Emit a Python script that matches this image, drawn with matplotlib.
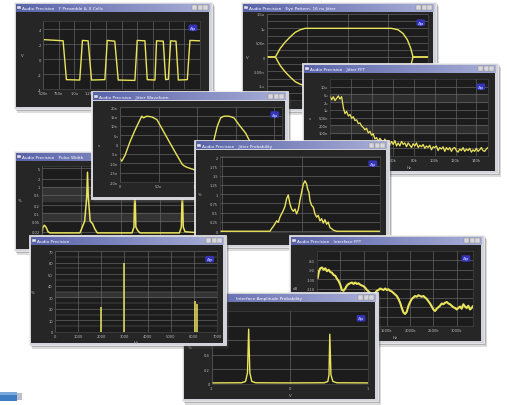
import matplotlib
matplotlib.use("Agg")
import matplotlib.pyplot as plt
from matplotlib.patches import Rectangle
from matplotlib.colors import LinearSegmentedColormap
import numpy as np

# ---------------------------------------------------------------- data
# 1. Y Preamble & X Cells  (time in us, level)
pre_t = [0.525, 0.82, 0.873, 1.085, 1.128, 1.218, 1.273, 1.485, 1.523, 1.643,
         1.698, 1.963, 2.0, 2.123, 2.16, 2.283, 2.308, 2.415, 2.453, 2.495,
         2.533, 2.618, 2.655, 2.798, 2.84, 2.99]
pre_v = [2.6, 2.45, -2.75, -2.8, 2.5, 2.45, -2.8, -2.75, 2.5, 2.4,
         -2.8, -2.85, 2.5, 2.45, -2.75, -2.8, 2.45, 2.4, -2.75, -2.7,
         2.45, 2.4, -2.8, -2.75, 2.5, 2.45]
pre_xt = [0.5, 0.75, 1.0, 1.25, 1.5, 1.75, 2.0, 2.25, 2.5, 2.75, 3.0]
pre_xl = ['500n', '750n', '1.0u', '1.25u', '1.5u', '1.75u', '2.0u', '2.25u', '2.5u', '2.75u', '3.0u']
pre_yt = [-4, -2, 0, 2, 4]
pre_yl = ['-4', '-2', '0', '2', '4']

# 2. Eye pattern (divisions, normalized amplitude)
eye_t = [0, 0.52, 0.82, 1.13, 1.44, 1.75, 2.06, 2.37, 7.73, 8.14, 8.45, 8.72, 8.93, 9.07, 10]
eye_v = [0, 0, 0.30, 0.52, 0.70, 0.86, 0.95, 1.0, 1.0, 0.95, 0.82, 0.6, 0.3, 0, 0]
eye_yt = [-1.5, -1.25, -1.0, -0.75, -0.5, -0.25, 0, 0.25, 0.5, 0.75, 1.0, 1.25, 1.5]
eye_yl = ['-1.5u', '', '-1u', '', '-500n', '', '0', '', '500n', '', '1u', '', '1.5u']

# 3. Jitter FFT (kHz bins 0..151, level)
fft_a = [78, 73, 77, 72, 75, 78, 74, 77, 63, 55, 58, 52, 54, 49, 51, 46, 47, 42, 43, 39,
         37, 34, 36, 30, 32, 27, 29, 22, 24, 19, 23, 20, 17, 22, 16, 20, 14, 19, 15, 20,
         13, 17, 13, 19, 15, 17, 12, 17, 14, 11, 16, 13, 17, 11, 14, 12, 15, 10, 13, 11,
         14, 8, 12, 11, 13, 7, 11, 9, 12, 6, 11, 8, 11, 6, 10, 11, 7, 5, 9, 7,
         11, 6, 9, 7, 10, 5, 8, 6, 10, 6, 8, 11, 7, 6, 9, 11]
fft_xt = [20, 40, 60, 80, 100, 120, 140]
fft_xl = ['20k', '40k', '60k', '80k', '100k', '120k', '140k']
fft_yt = [10, 20, 30, 40, 50, 60, 70, 80, 90]
fft_yl = ['20n', '50n', '100n', '200n', '500n', '1u', '2u', '5u', '10u']

# 4. Jitter Waveform (us, ns)
jw_t = [0, 2.2, 6.5, 13, 19.6, 26, 28.3, 30.4, 34.8, 41.3,
        47.8, 56.5, 65.2, 73.9, 80.4, 82.6, 87, 93.5, 97.8, 105,
        112, 118, 121.7, 126, 130.4, 134.8, 141.3, 147.8, 154.3, 163,
        167.4, 175, 185, 195, 210]
jw_v = [-7.6, -8.9, -5.8, 1.5, 7.8, 13.3, 15.1, 14.2, 15.1, 14.7,
        13.3, 6.9, 0.5, -5.8, -10.4, -11.3, -12.2, -13.1, -13.6, -12,
        -7, -1, 2.2, 9.6, 14.2, 15.1, 15.1, 14.2, 10.5, 6,
        2.4, -3, -10, -13, -13]
jw_xt = [0, 50, 100, 150, 200]
jw_xl = ['0', '50u', '100u', '150u', '200u']
jw_yt = [-20, -15, -10, -5, 0, 5, 10, 15, 20]
jw_yl = ['-20n', '-15n', '-10n', '-5n', '0', '5n', '10n', '15n', '20n']

# 5. Pulse Width
pw_x = [0, 0.6, 1.5, 2.5, 3.8, 5, 24, 25.5, 27, 28.3, 28.8, 29.3, 30.5, 32, 33.5, 35,
        57, 58.2, 58.8, 59.4, 60.6, 62, 87, 88.2, 88.8, 89.4, 90.5, 100]
pw_y = [0.018, 0.03, 0.035, 0.03, 0.02, 0.018, 0.018, 0.03, 0.05, 0.4, 3.5, 0.4, 0.05, 0.04, 0.025, 0.018,
        0.018, 0.03, 1.1, 0.03, 0.022, 0.018, 0.018, 0.03, 0.9, 0.03, 0.02, 0.018]
pw_yt = [0.02, 0.05, 0.1, 0.2, 0.5, 1, 2, 5]
pw_yl = ['0.02', '0.05', '0.1', '0.2', '0.5', '1', '2', '5']

# 6. Jitter Probability (ns, %)
jp_x = [-10.2, -3.96, -3.75, -3.54, -3.33, -3.13, -2.92, -2.71, -2.5, -2.29,
        -2.08, -1.88, -1.67, -1.46, -1.25, -1.04, -0.83, -0.63, -0.42, -0.21,
        0, 0.21, 0.42, 0.63, 0.75, 0.92, 1.04, 1.25, 1.46, 1.67,
        1.88, 2.08, 2.29, 2.5, 2.71, 2.92, 3.13, 3.33, 3.54, 3.75,
        3.96, 4.38, 9.8]
jp_y = [0, 0, 0.07, 0.13, 0.2, 0.28, 0.24, 0.38, 0.47, 0.56,
        0.67, 0.875, 0.98, 0.74, 0.6, 0.54, 0.6, 0.47, 0.58, 0.83,
        1.05, 1.27, 1.36, 1.27, 1.14, 1.05, 0.83, 0.7, 0.65, 0.47,
        0.38, 0.43, 0.28, 0.34, 0.22, 0.31, 0.19, 0.25, 0.1, 0.07,
        0.03, 0, 0]
jp_yt = [0, 0.25, 0.5, 0.75, 1.0, 1.25, 1.5, 1.75, 2.0]
jp_yl = ['0', '0.25', '0.5', '0.75', '1', '1.25', '1.5', '1.75', '2']

# 7. Audio Precision spectrum (Hz)
sp_f = [2000, 3000, 6050, 6150]
sp_a = [22, 60, 27, 24]
sp_xt = [0, 1000, 2000, 3000, 4000, 5000, 6000, 7000]
sp_xl = ['0', '1000', '2000', '3000', '4000', '5000', '6000', '7000']
sp_yt = [0, 10, 20, 30, 40, 50, 60, 70]
sp_yl = ['0', '10', '20', '30', '40', '50', '60', '70']

# 8. Interface FFT (kHz)
if_f = [14, 43, 71, 107, 143, 178, 214, 250, 286, 321,
        357, 393, 428, 464, 500, 535, 571, 607, 643, 678,
        714, 750, 785, 821, 857, 893, 928, 964, 1000, 1035,
        1071, 1107, 1142, 1178, 1214, 1250, 1285, 1321, 1357, 1392,
        1428, 1464, 1500, 1535, 1571, 1607, 1642, 1678, 1714, 1750,
        1785, 1821, 1857, 1892, 1928, 1964, 2000, 2035, 2071, 2107,
        2142, 2178, 2214, 2250, 2285, 2321, 2357, 2392, 2428, 2464,
        2500, 2535, 2571, 2607, 2642, 2678, 2714, 2750, 2785, 2821,
        2857, 2892, 2928, 2964, 3000, 3035, 3071, 3107, 3142, 3178,
        3214, 3250, 3285, 3321, 3342]
if_a = [64, 73, 77, 78, 75, 77, 73, 75, 72, 71,
        68, 67, 63, 60, 55, 48, 47, 50, 54, 56,
        57, 58, 56, 58, 56, 57, 55, 54, 53, 51,
        48, 46, 44, 42, 42, 44, 47, 48, 50, 49,
        48, 50, 48, 49, 47, 46, 44, 42, 40, 36,
        31, 24, 18, 16, 19, 27, 32, 36, 38, 40,
        39, 41, 40, 39, 40, 38, 36, 33, 30, 26,
        22, 20, 23, 25, 27, 30, 29, 31, 32, 30,
        29, 27, 25, 24, 22, 24, 26, 23, 29, 26,
        24, 27, 22, 24, 26]
if_xt = [500, 1000, 1500, 2000, 2500, 3000]
if_xl = ['500k', '1000k', '1500k', '2000k', '2500k', '3000k']
if_yt = [12.5, 25, 37.5, 50, 62.5, 75, 87.5]
if_yl = ['-140', '-130', '-120', '-110', '-100', '-90', '-80']

# 9. Interface Amplitude Probability
ap_x = [-1.0, -0.62, -0.57, -0.545, -0.53, -0.515, -0.49, -0.44, 0.0,
        0.44, 0.485, 0.5, 0.51, 0.525, 0.55, 0.6, 1.0]
ap_y = [0.01, 0.012, 0.03, 0.15, 0.75, 0.15, 0.03, 0.012, 0.01,
        0.012, 0.03, 0.12, 0.68, 0.12, 0.03, 0.012, 0.01]
ap_xt = [-1, 0, 1]
ap_xl = ['-1', '0', '1']
ap_yt = [0, 0.2, 0.4, 0.6, 0.8]
ap_yl = ['0', '0.2', '0.4', '0.6', '0.8']

# ---------------------------------------------------------------- style
W, H = 510, 406
fig = plt.figure(figsize=(W / 100, H / 100), dpi=100)
fig.patch.set_facecolor('white')

TRACE = '#eae45c'
GRID = '#6a6a6a'
TXT = '#bcbcbc'
title_cmap = LinearSegmentedColormap.from_list('tb', ['#5a64aa', '#8088c0', '#a8aed6'])

bg = fig.add_axes([0, 0, 1, 1])
bg.set_xlim(0, W); bg.set_ylim(H, 0); bg.axis('off')
bg.add_patch(Rectangle((0, 393), 17, 9, fc='#3f7cc4', lw=0))
bg.add_patch(Rectangle((0, 393), 17, 3, fc='#7aa8dc', lw=0))
bg.add_patch(Rectangle((17, 394), 5, 7, fc='#b8c0cc', lw=0))


def window(x0, y0, x1, y1, title, title_x=8.5):
    w, h = x1 - x0, y1 - y0
    sh = 5
    ax = fig.add_axes([x0 / W, 1 - (y1 + sh) / H, (w + sh) / W, (h + sh) / H])
    ax.axis('off')
    ax.add_patch(Rectangle((3.5, 3.5), w, h, fc='#505050', alpha=0.2, lw=0, zorder=1))
    ax.add_patch(Rectangle((2, 2), w, h, fc='#505050', alpha=0.3, lw=0, zorder=1))
    ax.add_patch(Rectangle((0, 0), w, h, fc='#d2d3db', ec='#f4f4f4', lw=0.5, zorder=1))
    grad = np.linspace(0, 1, 64).reshape(1, -1)
    ax.imshow(grad, extent=(2, w - 2, 9.5, 2), aspect='auto', cmap=title_cmap,
              interpolation='bilinear', zorder=2)
    ax.add_patch(Rectangle((3.5, 3.8), 3.5, 3.5, fc='#e0e0f0', ec='#404060', lw=0.2, zorder=3))
    ax.text(title_x, 5.9, title, color='white', fontsize=3.1, va='center', ha='left', zorder=4)
    for k in range(3):
        bx = w - 3 - 5.5 * (3 - k)
        ax.add_patch(Rectangle((bx, 3.3), 5, 5, fc='#d8d8dc', ec='#7a7a7a', lw=0.25, zorder=3))
    ax.add_patch(Rectangle((2.5, 9.5), w - 5, h - 12, fc='#262626', lw=0, zorder=3))
    ax.set_xlim(0, w + sh)
    ax.set_ylim(h + sh, 0)
    return ax


def panel(x0, y0, x1, y1):
    ax = fig.add_axes([x0 / W, 1 - y1 / H, (x1 - x0) / W, (y1 - y0) / H])
    ax.set_facecolor('#1c1c1c')
    for s in ax.spines.values():
        s.set_color('#4c4c4c'); s.set_linewidth(0.4)
    ax.tick_params(axis='both', colors=TXT, labelsize=2.6, length=0, pad=1.5)
    ax.grid(True, color=GRID, lw=0.45)
    ax.set_axisbelow(True)
    ax.text(0.955, 0.9, 'Ap', transform=ax.transAxes, fontsize=3.0, color='#a0a6ff',
            ha='center', va='center', fontweight='bold', zorder=5,
            bbox=dict(boxstyle='round,pad=0.3', fc='#3434b4', ec='none'))
    return ax


def side(ax, text, dx):
    bb = ax.get_position()
    ax.text(-dx / (bb.width * W), 0.5, text, transform=ax.transAxes,
            fontsize=2.8, color=TXT, ha='center', va='center')


def under(ax, text, dy):
    bb = ax.get_position()
    ax.text(0.5, -dy / (bb.height * H), text, transform=ax.transAxes,
            fontsize=2.8, color=TXT, ha='center', va='center')


# ---------------------------------------------------------------- 1 Y Preamble
window(14, 3, 212, 110, 'Audio Precision   Y Preamble & X Cells')
a = panel(43, 22, 200, 90)
a.plot(pre_t, pre_v, color=TRACE, lw=1.0)
a.set_xlim(0.5, 3.0); a.set_ylim(-4.0, 5.1)
a.set_xticks(pre_xt); a.set_xticklabels(pre_xl)
a.set_yticks(pre_yt); a.set_yticklabels(pre_yl)
side(a, 'V', 21)

# ---------------------------------------------------------------- 2 Eye pattern
window(241, 3, 436, 112, 'Audio Precision   Eye Pattern, 16 ns Jitter')
a = panel(267, 15, 428, 101)
a.plot(eye_t, eye_v, color=TRACE, lw=1.0)
a.plot(eye_t, [-v for v in eye_v], color=TRACE, lw=1.0)
a.set_xlim(0, 10); a.set_ylim(-1.5, 1.5)
a.set_xticks([0, 2.5, 5, 7.5, 10]); a.set_xticklabels(['0', '250n', '500n', '750n', '1u'])
a.set_yticks(eye_yt); a.set_yticklabels(eye_yl)
side(a, 'V', 20)

# ---------------------------------------------------------------- 5 Pulse width
window(14, 152, 210, 252, 'Audio Precision   Pulse Width')
a = panel(42, 167, 200, 236)
a.axhspan(0.3, 1.0, color='#333333', zorder=0)
a.axhspan(0.05, 0.1, color='#333333', zorder=0)
a.plot(pw_x, pw_y, color=TRACE, lw=1.1)
a.set_yscale('log')
a.set_xlim(0, 100); a.set_ylim(0.015, 6)
a.set_yticks(pw_yt); a.set_yticklabels(pw_yl)
a.minorticks_off()
a.set_xticks([0, 25, 50, 75, 100]); a.set_xticklabels([])
side(a, '%', 22)

# ---------------------------------------------------------------- 3 Jitter FFT
window(302, 64, 498, 174, 'Audio Precision   Jitter FFT')
a = panel(330, 80, 488, 157)
a.axhspan(70, 80, color='#2e2e2e', zorder=0)
a.axhspan(30, 40, color='#2e2e2e', zorder=0)
fft_f = np.linspace(0, 151, len(fft_a))
a.plot(fft_f, fft_a, color=TRACE, lw=0.9)
a.set_xlim(0, 151); a.set_ylim(0, 100)
a.set_xticks(fft_xt); a.set_xticklabels(fft_xl)
a.set_yticks(fft_yt); a.set_yticklabels(fft_yl)
side(a, 's', 20)
under(a, 'Hz', 11)

# ---------------------------------------------------------------- 4 Jitter waveform
window(91, 92, 288, 200, 'Audio Precision   Jitter Waveform')
a = panel(120, 108, 282, 183)
a.plot(jw_t, jw_v, color=TRACE, lw=1.0)
a.set_xlim(0, 210); a.set_ylim(-20, 20)
a.set_xticks(jw_xt); a.set_xticklabels(jw_xl)
a.set_yticks(jw_yt); a.set_yticklabels(jw_yl)
side(a, 's', 21)

# ---------------------------------------------------------------- 6 Jitter probability
window(194, 141, 389, 248, 'Audio Precision   Jitter Probability')
a = panel(220, 157, 380, 233)
a.plot(jp_x, jp_y, color=TRACE, lw=1.0)
a.set_xlim(-10.2, 9.8); a.set_ylim(-0.02, 2.03)
a.set_xticks([-10, 0]); a.set_xticklabels(['-10n', '0'])
a.set_yticks(jp_yt); a.set_yticklabels(jp_yl)
side(a, '%', 20)

# ---------------------------------------------------------------- 8 Interface FFT
window(289, 236, 484, 344, 'Audio Precision   Interface FFT')
a = panel(317, 252, 473, 327)
a.plot(if_f, if_a, color=TRACE, lw=1.5)
a.set_xlim(0, 3350); a.set_ylim(0, 100)
a.set_xticks(if_xt); a.set_xticklabels(if_xl)
a.set_yticks(if_yt); a.set_yticklabels(if_yl)
side(a, 'dB', 22)
under(a, 'Hz', 11)

# ---------------------------------------------------------------- 9 Interface amplitude probability
window(182, 293, 378, 402, 'Audio Precision          Interface Amplitude Probability')
a = panel(212, 312, 368, 385)
a.plot(ap_x, ap_y, color=TRACE, lw=1.0)
a.set_xlim(-1, 1); a.set_ylim(-0.005, 1.0)
a.set_xticks(ap_xt); a.set_xticklabels(ap_xl)
a.set_yticks(ap_yt); a.set_yticklabels(ap_yl)
side(a, '%', 22)
under(a, 'V', 11)

# ---------------------------------------------------------------- 7 Audio Precision spectrum
window(29, 236, 226, 346, 'Audio Precision')
a = panel(55, 252, 217, 333)
a.axhspan(30, 35, color='#333333', zorder=0)
a.vlines(sp_f, 0, sp_a, color=TRACE, lw=1.1)
a.axhline(0.3, color=TRACE, lw=0.4)
a.set_xlim(0, 7000); a.set_ylim(0, 70)
a.set_xticks(sp_xt); a.set_xticklabels(sp_xl)
a.set_yticks(sp_yt); a.set_yticklabels(sp_yl)
a.set_yticks([5, 15, 25, 35, 45, 55, 65], minor=True)
a.grid(True, which='minor', axis='y', color=GRID, lw=0.35)
a.tick_params(which='minor', length=0)
side(a, '%', 22)
under(a, 'Hz', 10)

fig.savefig('out.png', dpi=100, facecolor='white')
